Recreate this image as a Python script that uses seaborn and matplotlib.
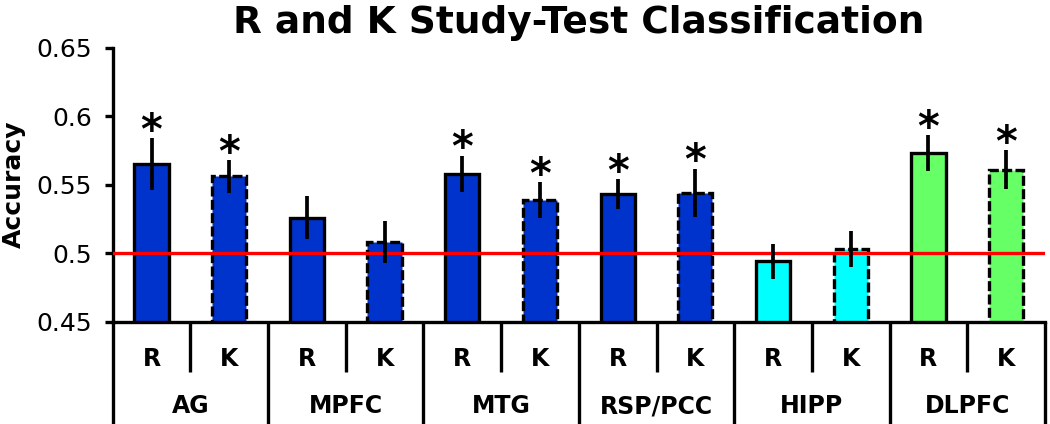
import numpy as np
import pandas as pd
import matplotlib
matplotlib.use("Agg")
import matplotlib.pyplot as plt
import seaborn as sns
from matplotlib.transforms import blended_transform_factory

# ---- data ----
regions = ["AG", "MPFC", "MTG", "RSP/PCC", "HIPP", "DLPFC"]
conditions = ["R", "K"]
r_acc = [0.565, 0.526, 0.558, 0.543, 0.494, 0.573]
k_acc = [0.556, 0.508, 0.539, 0.544, 0.503, 0.561]
r_err = [0.019, 0.016, 0.013, 0.011, 0.0125, 0.013]
k_err = [0.012, 0.0155, 0.013, 0.0175, 0.013, 0.014]
r_sig = [True, False, True, True, False, True]
k_sig = [True, False, True, True, False, True]
region_colors = ["#0033CC", "#0033CC", "#0033CC", "#0033CC", "#00FFFF", "#66FF66"]
chance = 0.5
yticks = [0.45, 0.5, 0.55, 0.6, 0.65]
ytick_labels = ["0.45", "0.5", "0.55", "0.6", "0.65"]
title = "R and K Study-Test Classification"
ylabel = "Accuracy"

rows = []
for reg, ra, ka, re_, ke, rs, ks, col in zip(regions, r_acc, k_acc, r_err, k_err,
                                             r_sig, k_sig, region_colors):
    rows.append(dict(region=reg, cond="R", slot=f"{reg} R", acc=ra, err=re_, sig=rs, color=col))
    rows.append(dict(region=reg, cond="K", slot=f"{reg} K", acc=ka, err=ke, sig=ks, color=col))
df = pd.DataFrame(rows)

sns.set_style("ticks")
plt.rcParams["font.family"] = ["DejaVu Sans"]
plt.rcParams["text.color"] = "black"
plt.rcParams["axes.labelcolor"] = "black"
plt.rcParams["xtick.color"] = "black"
plt.rcParams["ytick.color"] = "black"

fig = plt.figure(figsize=(10.5, 4.24), dpi=100)
ax = fig.add_axes([0.1073, 0.2413, 0.8879, 0.6462])

LW = 2.4
palette = dict(zip(df["slot"], df["color"]))
sns.barplot(data=df, x="slot", y="acc", hue="slot", palette=palette, legend=False,
            width=0.44, edgecolor="black", linewidth=LW, errorbar=None,
            saturation=1, ax=ax, zorder=2)

for patch, cond in zip(ax.patches, df["cond"]):
    if cond == "K":
        patch.set_linestyle((0, (3, 1)))

xs = np.arange(len(df))
ax.axhline(chance, color="red", lw=LW, zorder=3)
ax.errorbar(xs, df["acc"], yerr=df["err"], fmt="none", ecolor="black",
            elinewidth=2.7, capsize=0, zorder=4)

for x, a, e, s in zip(xs, df["acc"], df["err"], df["sig"]):
    if s:
        ax.annotate("*", xy=(x, a + e), xytext=(0, -4), textcoords="offset points",
                    ha="center", va="baseline", fontsize=30, fontweight="bold",
                    color="black")

ax.set_xlim(-0.5, len(df) - 0.5)
ax.set_ylim(yticks[0], yticks[-1])
ax.set_yticks(yticks)
ax.set_yticklabels(ytick_labels)
ax.set_xticks([])
ax.set_xlabel("")
ax.tick_params(axis="y", length=6, width=LW, labelsize=18, pad=9, colors="black")
for side in ["top", "right"]:
    ax.spines[side].set_visible(False)
for side in ["left", "bottom"]:
    ax.spines[side].set_linewidth(LW)
    ax.spines[side].set_color("black")

ax.set_ylabel(ylabel, fontsize=18, fontweight="bold", color="black")
ax.yaxis.set_label_coords(-0.093, 0.5)
ax.set_title(title, fontsize=27, fontweight="bold", pad=10.6, color="black")

# ---- category table below the axis ----
trans = blended_transform_factory(ax.transData, ax.transAxes)
n = len(df)
for b in np.arange(-0.5, n, 2):
    ax.plot([b, b], [0, -0.40], transform=trans, clip_on=False, color="black",
            lw=LW, solid_capstyle="butt")
for b in np.arange(0.5, n, 2):
    ax.plot([b, b], [0, -0.1825], transform=trans, clip_on=False, color="black",
            lw=LW, solid_capstyle="butt")
for x, c in zip(xs, df["cond"]):
    ax.text(x, -0.1606, c, transform=trans, ha="center", va="baseline",
            fontsize=17, fontweight="bold", color="black")
for g, reg in enumerate(regions):
    ax.text(2 * g + 0.5, -0.3343, reg, transform=trans, ha="center", va="baseline",
            fontsize=17, fontweight="bold", color="black")

fig.savefig("out.png", dpi=100)
